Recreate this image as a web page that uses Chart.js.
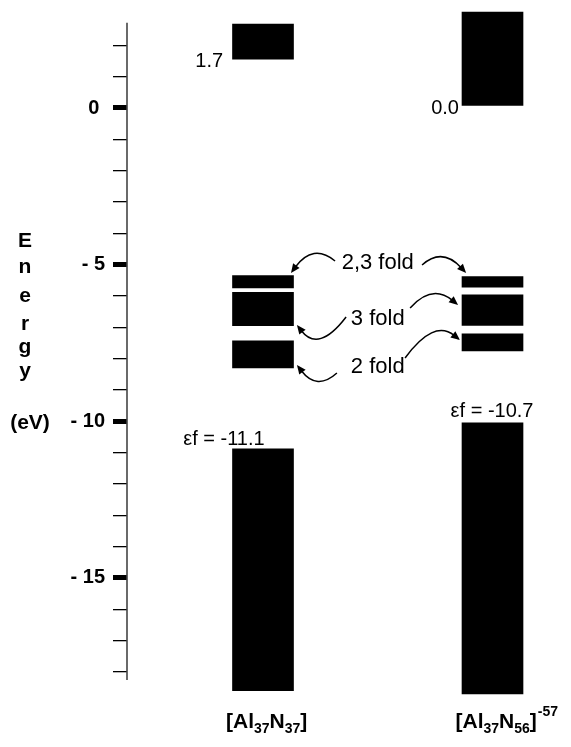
<!DOCTYPE html>
<html><head><meta charset="utf-8">
<script src="https://cdn.jsdelivr.net/npm/chart.js@4.4.1/dist/chart.umd.min.js"></script>
<style>html,body{margin:0;padding:0;background:#fff;}canvas{display:block;}</style>
</head><body>
<canvas id="c" width="571" height="747"></canvas>
<script>
// ---- data ----
const categories = ['[Al_{37}N_{37}]', '[Al_{37}N_{56}]^{-57}'];
const columnX = [1, 2];
// band edges in eV, one array pair per column (top band, three middle bands, valence band)
const bandLow1  = [1.56, -5.74, -6.95, -8.30, -18.60];
const bandHigh1 = [2.68, -5.35, -5.88, -7.43, -10.88];
const bandLow2  = [0.00, -5.72, -6.94, -7.75, -18.70];
const bandHigh2 = [3.06, -5.38, -5.96, -7.21, -10.05];
const tickValues = [-18,-17,-16,-15,-14,-13,-12,-11,-10,-9,-8,-7,-6,-5,-4,-3,-2,-1,0,1,2];
const labeledTicks = [-15, -10, -5, 0];
const labeledTickText = ['- 15', '- 10', '- 5', '0 '];
const gapLabels = ['1.7', '0.0'];
const fermiLabels = ['\u03B5f = -11.1', '\u03B5f = -10.7'];
const foldLabels = ['2,3 fold', '3 fold', '2 fold'];
const yTitleLetters = ['E', 'n', 'e', 'r', 'g', 'y', '(eV)'];

// ---- annotation placement (data coordinates) ----
const gapLabelPos = [[0.826, 1.31], [1.854, -0.19]];
const fermiLabelPos = [[0.830, -10.755], [1.998, -9.878]];
const foldLabelPos = [[1.5, -5.14], [1.5, -6.93], [1.5, -8.46]];
const arrows = [ // start, control, end
  [[1.314,-4.883],[1.218,-4.309],[1.122,-5.266]],
  [[1.693,-5.011],[1.780,-4.436],[1.885,-5.266]],
  [[1.362,-6.670],[1.242,-7.819],[1.148,-6.926]],
  [[1.641,-6.383],[1.736,-5.601],[1.850,-6.287]],
  [[1.322,-8.457],[1.235,-9.032],[1.148,-8.202]],
  [[1.619,-7.979],[1.743,-6.734],[1.858,-7.404]]
];

const bars = [];
bandLow1.forEach((lo, i) => bars.push({x: columnX[0], y: [lo, bandHigh1[i]]}));
bandLow2.forEach((lo, i) => bars.push({x: columnX[1], y: [lo, bandHigh2[i]]}));

const FONT = 'Liberation Sans, Arial, sans-serif';

function parseLabel(s) {
  const parts = [];
  const re = /([_^])\{([^}]*)\}|([^_^]+)/g;
  let m;
  while ((m = re.exec(s))) {
    if (m[3]) parts.push([m[3], 0]);
    else parts.push([m[2], m[1] === '_' ? 1 : 2]);
  }
  return parts;
}

const annot = {
  id: 'annot',
  afterDatasetsDraw(chart) {
    const ctx = chart.ctx;
    const xs = chart.scales.x, ys = chart.scales.y;
    const P = (p) => [xs.getPixelForValue(p[0]), ys.getPixelForValue(p[1])];
    ctx.save();
    // axis line
    ctx.strokeStyle = '#444';
    ctx.lineWidth = 1.6;
    ctx.beginPath();
    const ax = chart.chartArea.left;
    ctx.moveTo(ax, ys.getPixelForValue(2.72));
    ctx.lineTo(ax, ys.getPixelForValue(-18.26));
    ctx.stroke();

    ctx.fillStyle = '#000';
    ctx.textBaseline = 'alphabetic';
    // gap labels
    ctx.font = '20px ' + FONT;
    ctx.textAlign = 'right';
    gapLabels.forEach((t, i) => { const p = P(gapLabelPos[i]); ctx.fillText(t, p[0], p[1]); });
    // fermi labels
    ctx.textAlign = 'center';
    fermiLabels.forEach((t, i) => { const p = P(fermiLabelPos[i]); ctx.fillText(t, p[0], p[1]); });
    // fold labels
    ctx.font = '22px ' + FONT;
    foldLabels.forEach((t, i) => { const p = P(foldLabelPos[i]); ctx.fillText(t, p[0], p[1]); });

    // arrows
    ctx.strokeStyle = '#000';
    ctx.lineWidth = 1.5;
    arrows.forEach(a => {
      const s = P(a[0]), c = P(a[1]), e = P(a[2]);
      const ang = Math.atan2(e[1] - c[1], e[0] - c[0]);
      const L = 9, W = 4;
      const bx = e[0] - L * 0.8 * Math.cos(ang), by = e[1] - L * 0.8 * Math.sin(ang);
      ctx.beginPath();
      ctx.moveTo(s[0], s[1]);
      ctx.quadraticCurveTo(c[0], c[1], bx, by);
      ctx.stroke();
      ctx.beginPath();
      ctx.moveTo(e[0], e[1]);
      ctx.lineTo(e[0] - L * Math.cos(ang) - W * Math.sin(ang), e[1] - L * Math.sin(ang) + W * Math.cos(ang));
      ctx.lineTo(e[0] - L * Math.cos(ang) + W * Math.sin(ang), e[1] - L * Math.sin(ang) - W * Math.cos(ang));
      ctx.closePath();
      ctx.fill();
    });

    // y title, stacked letters
    ctx.font = 'bold 21px ' + FONT;
    ctx.textAlign = 'center';
    const letterY = [247, 273, 302, 330, 353, 377, 429];
    yTitleLetters.forEach((t, i) => ctx.fillText(t, i === yTitleLetters.length - 1 ? 30 : 25, letterY[i]));

    // category labels with sub/superscripts
    ctx.textAlign = 'left';
    const baseY = chart.chartArea.bottom + 31;
    categories.forEach((lab, i) => {
      let x = xs.getPixelForValue(columnX[i]) - 37;
      parseLabel(lab).forEach(([txt, kind]) => {
        if (kind === 0) { ctx.font = 'bold 21px ' + FONT; ctx.fillText(txt, x, baseY); }
        else if (kind === 1) { ctx.font = 'bold 14px ' + FONT; ctx.fillText(txt, x, baseY + 5); }
        else { ctx.font = 'bold 14px ' + FONT; ctx.fillText(txt, x + 1, baseY - 12); }
        x += ctx.measureText(txt).width;
      });
    });
    ctx.restore();
  }
};

new Chart(document.getElementById('c'), {
  type: 'bar',
  data: { datasets: [{ data: bars, backgroundColor: '#000', borderWidth: 0, barThickness: 61 }] },
  options: {
    responsive: false,
    animation: false,
    layout: { padding: { left: 0, right: 11, top: 10.87, bottom: 50 } },
    plugins: { legend: { display: false }, tooltip: { enabled: false } },
    scales: {
      x: { type: 'linear', min: 0.4074, max: 2.2941, offset: false, grid: { offset: false }, display: false },
      y: {
        type: 'linear', min: -18.8, max: 3.1,
        afterBuildTicks: (s) => { s.ticks = tickValues.map(v => ({ value: v })); },
        afterFit: (s) => { s.width = 127; s.paddingTop = 0; s.paddingBottom = 0; },
        border: { display: false },
        grid: {
          drawOnChartArea: false, drawTicks: true, tickLength: 14, color: '#000',
          lineWidth: (c) => (c.tick && labeledTicks.includes(c.tick.value)) ? 5 : 1.3
        },
        ticks: {
          autoSkip: false, padding: 8, color: '#000',
          font: { family: FONT, size: 20, weight: 'bold' },
          callback: (v) => { const k = labeledTicks.indexOf(v); return k >= 0 ? labeledTickText[k] : ''; }
        }
      }
    }
  },
  plugins: [annot]
});
</script>
</body></html>
